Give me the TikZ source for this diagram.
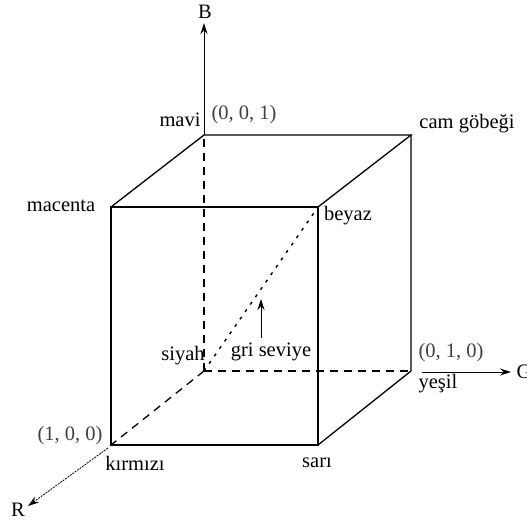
\documentclass[tikz,border=0pt]{standalone}
\usepackage{fontspec}
\setmainfont{Liberation Serif}
\usetikzlibrary{arrows.meta}
\begin{document}
\begin{tikzpicture}[x=1pt,y=-1pt,
  edge/.style={line width=1.3pt},
  hidden/.style={line width=1.3pt, dash pattern=on 8pt off 6pt},
  gray/.style={line width=1.4pt, dash pattern=on 3pt off 6pt},
  axis/.style={line width=1pt,-{Stealth[length=11pt,width=7pt]}},
  lbl/.style={font=\fontsize{20.5}{22}\selectfont, inner sep=0pt},
  coord/.style={font=\fontsize{20.5}{22}\selectfont, inner sep=0pt, text=black!75}]
\useasboundingbox (0,0) rectangle (527,520);
% corners
\coordinate (K) at (111,445);   % kirmizi (1,0,0)
\coordinate (S) at (318,445);   % sari
\coordinate (M) at (111,207);   % macenta
\coordinate (W) at (318,207);   % beyaz
\coordinate (O) at (204,371);   % siyah
\coordinate (Y) at (411,371);   % yesil
\coordinate (V) at (204,135);   % mavi
\coordinate (C) at (411,135);   % cam gobegi
% axis ends
\coordinate (Bend) at (204,23);
\coordinate (Gstart) at (422,372);
\coordinate (Gend) at (511,372);
\coordinate (Rstart) at (108,448);
\coordinate (Rend) at (28,506);
\coordinate (gs1) at (261,338);
\coordinate (gs2) at (261,299);
% solid edges
\draw[edge] (M) -- (W) -- (S) -- (K) -- cycle;
\draw[edge] (M) -- (V) -- (C) -- (W);
\draw[edge] (C) -- (Y) -- (S);
% hidden edges
\draw[hidden] (O) -- (V);
\draw[hidden] (O) -- (Y);
\draw[hidden] (O) -- (K);
\draw[gray] (O) -- (W);
% axes
\draw[axis] (V) -- (Bend);
\draw[axis] (Gstart) -- (Gend);
\draw[axis, line width=0.8pt, dash pattern=on 2pt off 1pt] (Rstart) -- (Rend);
\draw[axis] (gs1) -- (gs2);
% labels
\node[lbl] (lB) at (205,12) {B};
\node[lbl] (lG) at (524,372) {G};
\node[lbl] (lR) at (18,510) {R};
\node[lbl] (lmavi) at (180,120) {mavi};
\node[coord] (l001) at (244,115) {(0, 0, 1)};
\node[lbl] (lcam) at (467,124) {cam göbeği};
\node[lbl] (lmac) at (61,206) {macenta};
\node[lbl] (lbey) at (348,216) {beyaz};
\node[lbl] (lgri) at (271,352) {gri seviye};
\node[lbl] (lsiy) at (183,356) {siyah};
\node[coord] (l010) at (451,353) {(0, 1, 0)};
\node[lbl] (lyes) at (438,384) {yeşil};
\node[coord] (l100) at (70,436) {(1, 0, 0)};
\node[lbl] (lkir) at (135,463) {kırmızı};
\node[lbl] (lsar) at (317,463) {sarı};
\end{tikzpicture}
\end{document}
